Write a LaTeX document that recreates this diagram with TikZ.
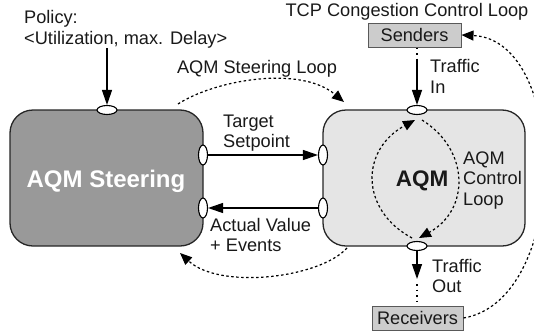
\documentclass[tikz,border=0pt]{standalone}
\usepackage{fontspec}
\setmainfont{Liberation Sans}
\usetikzlibrary{shapes.geometric,arrows.meta}
\begin{document}
\begin{tikzpicture}[x=1pt,y=-1pt,
  txt/.style={font=\fontsize{18.2}{20.5}\selectfont, inner sep=0pt, text=black!90},
  blk/.style={draw=black!85, line width=1.3pt, rounded corners=23pt, inner sep=0pt},
  port/.style={ellipse, draw=black, fill=white, line width=1.1pt, inner sep=0pt},
  hport/.style={port, minimum width=20pt, minimum height=9pt},
  vport/.style={port, minimum width=9pt, minimum height=20pt},
  ext/.style={txt, draw=black!65, fill=black!20, line width=1pt, minimum height=24pt, inner sep=0pt},
  flow/.style={line width=1.3pt, -{Triangle[length=15pt,width=10pt]}},
  loopline/.style={line width=1.2pt, dash pattern=on 2.5pt off 2.5pt, -{Triangle[length=12pt,width=10pt]}},
  gap/.style={line width=1.1pt, dash pattern=on 1.5pt off 4pt},
]
\useasboundingbox (0,0) rectangle (534,332);
% main blocks
\node[blk, fill=black!40, minimum width=193pt, minimum height=136pt] (steer) at (106.5,178) {};
\node[blk, fill=black!10, minimum width=202pt, minimum height=136pt] (aqm) at (424,178) {};
\node[txt, font=\bfseries\fontsize{24}{28}\selectfont, text=white, anchor=base] (steertxt) at (106,187.5) {AQM Steering};
\node[txt, font=\bfseries\fontsize{22.5}{26}\selectfont, anchor=base] (aqmtxt) at (422,186) {AQM};
% external boxes
\node[ext, minimum width=93pt] (send) at (414.5,35) {Senders};
\node[ext, minimum width=91pt] (recv) at (417.5,318) {Receivers};
% labels
\node[txt, anchor=west, align=left] (policy) at (24,29.5) {Policy:\\<Utilization, max. Delay>};
\node[txt, anchor=base] (tcpl) at (407,16.7) {TCP Congestion Control Loop};
\node[txt, anchor=base] (steerl) at (257,73.3) {AQM Steering Loop};
\node[txt, anchor=west, align=left] (tsl) at (223,133) {Target\\Setpoint};
\node[txt, anchor=west, align=left] (avl) at (210,235.2) {Actual Value\\+ Events};
\node[txt, anchor=west, align=left] (tinl) at (430,76.4) {Traffic\\In};
\node[txt, anchor=west, align=left] (toutl) at (432,276) {Traffic\\Out};
\node[txt, anchor=west, align=left] (acl) at (463,180.3) {AQM\\Control\\Loop};
% ports
\node[hport] (sTop) at (107,110) {};
\node[vport] (sR1) at (203,155) {};
\node[vport] (sR2) at (203,208) {};
\node[vport] (aL1) at (323,155) {};
\node[vport] (aL2) at (323,208) {};
\node[hport] (aTop) at (417,110) {};
\node[hport] (aBot) at (417,246) {};
% coordinates
\coordinate (tin) at (417,60);
\coordinate (tout) at (417,279);
\coordinate (tout2) at (417,284);
\coordinate (sl0) at (178,104);
\coordinate (sl1) at (344,102);
\coordinate (bl0) at (347,248);
\coordinate (bl1) at (180,253);
\coordinate (cl0) at (412,238);
\coordinate (cl1) at (415,120);
\coordinate (cr0) at (422,120);
\coordinate (cr1) at (419,238);
% solid flows
\draw[flow] (policy.south -| sTop) -- (sTop);
\draw[flow] (sR1) -- (aL1);
\draw[flow] (aL2) -- (sR2);
\draw[gap] (send.south -| tin) -- (tin);
\draw[flow] (tin) -- (aTop);
\draw[flow] (aBot) -- (tout);
\draw[gap] (tout2) -- (recv.north -| tout2);
% loops
\draw[loopline] (sl0) .. controls (215,80) and (300,65) .. (sl1);
\draw[loopline] (bl0) .. controls (320,278) and (220,290) .. (bl1);
\draw[loopline] (cl0) .. controls (360,210) and (360,150) .. (cl1);
\draw[loopline] (cr0) .. controls (470,150) and (470,210) .. (cr1);
\draw[loopline] (recv.east) .. controls (570,300) and (570,40) .. (send.east);
\end{tikzpicture}
\end{document}
